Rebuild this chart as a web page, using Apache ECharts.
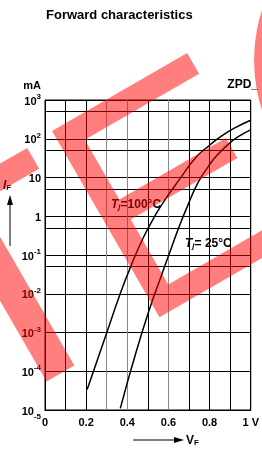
<!DOCTYPE html>
<html>
<head>
<meta charset="utf-8">
<script src="https://cdn.jsdelivr.net/npm/echarts@6/dist/echarts.min.js"></script>
<style>
html,body{margin:0;padding:0;background:#fff;}
#c{width:262px;height:450px;}
</style>
</head>
<body>
<div id="c"></div>
<script>
// ---- data ----
const vF100 = [0.205, 0.296, 0.369, 0.4165, 0.48, 0.542, 0.59, 0.652, 0.731, 0.80, 0.857, 0.93, 1.0];
const iF100 = [3.4e-5, 8.5e-4, 0.0112, 0.05, 0.295, 1.2, 3.0, 8.7, 32, 68, 117, 200, 300];
const vF25 = [0.366, 0.44, 0.511, 0.558, 0.605, 0.652, 0.692, 0.745, 0.80, 0.833, 0.904, 0.95, 1.0];
const iF25 = [1.1e-5, 2.8e-4, 4.5e-3, 0.0226, 0.112, 0.54, 1.8, 7.6, 21.4, 36, 83, 123, 170];
const minorGridValues = [5e-5, 5e-4, 5e-3, 0.05, 0.5, 5, 50, 500];
const xTickLabels = ['0', '', '0.2', '', '0.4', '', '0.6', '', '0.8', '', '1 V'];
const seriesNames = ['Tj=100°C', 'Tj=25°C'];

const FONT = '"Liberation Sans", Arial, Helvetica, sans-serif';
const chart = echarts.init(document.getElementById('c'), null, {renderer: 'canvas'});

function yLabel(v) {
  const e = Math.round(Math.log10(v));
  if (e === 0) return '{b|1}';
  if (e === 1) return '{b|10}';
  if (e === -5) return '{b5|10}{s5|' + e + '}';
  return '{b|10}{s|' + e + '}';
}

// watermark (decoration) in a frame rotated by 30 degrees
const C30 = Math.cos(Math.PI / 6), S30 = 0.5;
function toScreen(ox, oy, pts) {
  return pts.map(([a, b]) => [ox + a * C30 + b * S30, oy - a * S30 + b * C30]);
}
const wmFill = 'rgba(255,0,0,0.5)';
const shapeE = toScreen(52, 131, [[0,0],[156,0],[156,24],[24,24],[24,93],[147,93],[147,116],[24,116],[24,191],[230,191],[230,215],[0,215]]);
const shapeL = toScreen(-59.4, 197.9, [[0,0],[100,0],[100,24],[32,24],[32,212],[0,212]]);

const K = '#000', G = '#8a8a8a';
const option = {
  animation: false,
  textStyle: {fontFamily: FONT},
  title: {
    text: 'Forward characteristics',
    left: 46, top: 9, padding: 0,
    textStyle: {fontFamily: FONT, fontSize: 13, fontWeight: 'bold', color: '#000'}
  },
  grid: {left: 45, right: 5, top: 100, bottom: 40, show: true, borderColor: '#000', borderWidth: 1, containLabel: false},
  xAxis: {
    type: 'value', min: 0, max: 1, interval: 0.1,
    axisLine: {show: true, lineStyle: {color: '#000', width: 1}},
    axisTick: {show: false},
    splitLine: {show: true, lineStyle: {color: [K, K, K, G, G, K, G, K, K, K, K], width: 1}},
    axisLabel: {
      color: '#000', fontSize: 11, fontWeight: 'bold', fontFamily: FONT, margin: 7,
      formatter: v => xTickLabels[Math.round(v * 10)] || ''
    }
  },
  yAxis: {
    type: 'log', logBase: 10, min: 1e-5, max: 1e3, splitNumber: 8,
    axisLine: {show: true, lineStyle: {color: '#000', width: 1}},
    axisTick: {show: false},
    splitLine: {show: true, lineStyle: {color: '#000', width: 1}},
    axisLabel: {
      color: '#000', margin: 4, formatter: yLabel,
      rich: {
        b: {fontSize: 11, fontWeight: 'bold', fontFamily: FONT, color: '#000', lineHeight: 14, verticalAlign: 'bottom'},
        s: {fontSize: 8, fontWeight: 'bold', fontFamily: FONT, color: '#000', lineHeight: 8, verticalAlign: 'top'},
        b5: {fontSize: 11, fontWeight: 'bold', fontFamily: FONT, color: '#000', lineHeight: 14, verticalAlign: 'bottom', padding: [10, 0, 0, 0]},
        s5: {fontSize: 8, fontWeight: 'bold', fontFamily: FONT, color: '#000', lineHeight: 8, verticalAlign: 'top', padding: [10, 0, 0, 0]}
      }
    }
  },
  series: [
    {
      name: seriesNames[0], type: 'line', smooth: 0.5, symbol: 'none',
      data: vF100.map((v, i) => [v, iF100[i]]),
      lineStyle: {color: '#000', width: 1.5},
      markLine: {
        silent: true, symbol: ['none', 'none'], label: {show: false}, animation: false,
        lineStyle: {color: '#000', width: 1, type: 'solid'},
        data: minorGridValues.map(v => ({yAxis: v}))
      }
    },
    {
      name: seriesNames[1], type: 'line', smooth: 0.5, symbol: 'none',
      data: vF25.map((v, i) => [v, iF25[i]]),
      lineStyle: {color: '#000', width: 1.5}
    }
  ],
  graphic: [
    {type: 'text', x: 41, y: 86, style: {text: 'mA', font: 'bold 11px ' + FONT, fill: '#000', align: 'right', verticalAlign: 'middle'}},
    {type: 'text', x: 258, y: 85, style: {text: 'ZPD_', font: 'bold 12px ' + FONT, fill: '#000', align: 'right', verticalAlign: 'middle'}},
    {type: 'text', x: 3, y: 185, style: {
      text: '{i|I}{f|F}', align: 'left', verticalAlign: 'middle',
      rich: {
        i: {fontSize: 12, fontWeight: 'bold', fontStyle: 'italic', fontFamily: FONT, fill: '#000', lineHeight: 14, verticalAlign: 'bottom'},
        f: {fontSize: 8, fontWeight: 'bold', fontStyle: 'italic', fontFamily: FONT, fill: '#000', lineHeight: 8, verticalAlign: 'bottom'}
      }
    }},
    {type: 'line', shape: {x1: 10, y1: 246, x2: 10, y2: 203}, style: {stroke: '#000', lineWidth: 1}},
    {type: 'polygon', shape: {points: [[10, 195], [7, 205], [13, 205]]}, style: {fill: '#000'}},
    {type: 'line', shape: {x1: 133, y1: 440, x2: 176, y2: 440}, style: {stroke: '#000', lineWidth: 1}},
    {type: 'polygon', shape: {points: [[184, 440], [174, 437], [174, 443]]}, style: {fill: '#000'}},
    {type: 'text', x: 186, y: 440, style: {
      text: '{v|V}{f|F}', align: 'left', verticalAlign: 'middle',
      rich: {
        v: {fontSize: 12, fontWeight: 'bold', fontFamily: FONT, fill: '#000', lineHeight: 14, verticalAlign: 'bottom'},
        f: {fontSize: 8, fontWeight: 'bold', fontFamily: FONT, fill: '#000', lineHeight: 8, verticalAlign: 'bottom'}
      }
    }},
    {type: 'text', x: 111, y: 204, z: 50, style: {
      text: '{t|T}{j|j}{n|=100°C}', align: 'left', verticalAlign: 'middle',
      rich: {
        t: {fontSize: 12, fontWeight: 'bold', fontStyle: 'italic', fontFamily: FONT, fill: '#000', lineHeight: 14, verticalAlign: 'bottom'},
        j: {fontSize: 8, fontWeight: 'bold', fontStyle: 'italic', fontFamily: FONT, fill: '#000', lineHeight: 8, verticalAlign: 'bottom'},
        n: {fontSize: 12, fontWeight: 'bold', fontFamily: FONT, fill: '#000', lineHeight: 14, verticalAlign: 'bottom'}
      }
    }},
    {type: 'text', x: 185, y: 243, z: 50, style: {
      text: '{t|T}{j|j}{n|= 25°C}', align: 'left', verticalAlign: 'middle',
      rich: {
        t: {fontSize: 12, fontWeight: 'bold', fontStyle: 'italic', fontFamily: FONT, fill: '#000', lineHeight: 14, verticalAlign: 'bottom'},
        j: {fontSize: 8, fontWeight: 'bold', fontStyle: 'italic', fontFamily: FONT, fill: '#000', lineHeight: 8, verticalAlign: 'bottom'},
        n: {fontSize: 12, fontWeight: 'bold', fontFamily: FONT, fill: '#000', lineHeight: 14, verticalAlign: 'bottom'}
      }
    }},
    // watermark overlay
    {type: 'polygon', z: 100, silent: true, shape: {points: shapeE}, style: {fill: wmFill}},
    {type: 'polygon', z: 100, silent: true, shape: {points: shapeL}, style: {fill: wmFill}},
    {type: 'ring', z: 100, silent: true, shape: {cx: 414, cy: 60, r: 160, r0: 136}, style: {fill: wmFill}}
  ]
};
chart.setOption(option);
</script>
</body>
</html>
